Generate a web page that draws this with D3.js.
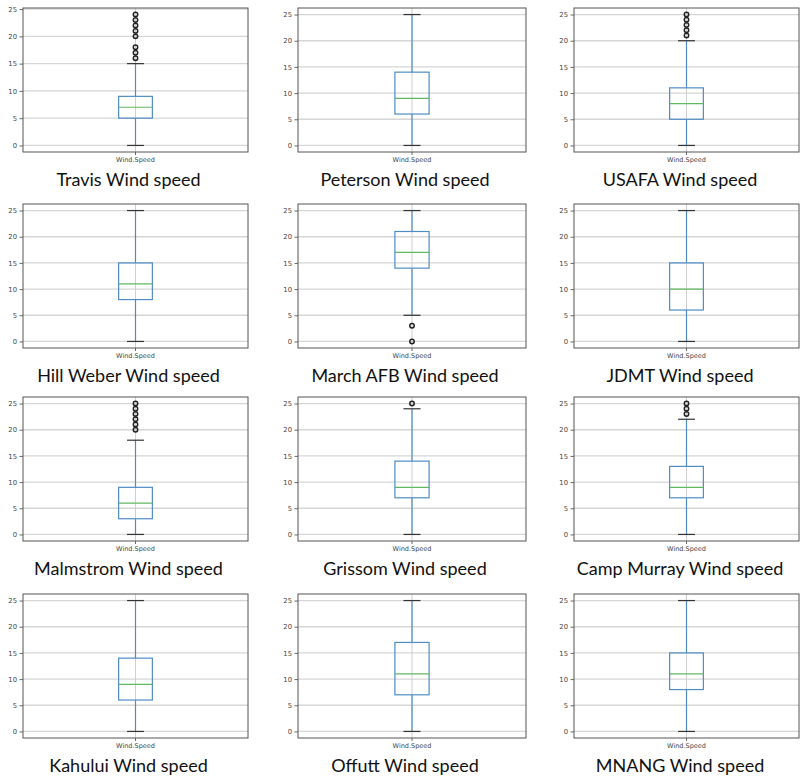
<!DOCTYPE html>
<html>
<head>
<meta charset="utf-8">
<script src="https://cdn.jsdelivr.net/npm/d3@7/dist/d3.min.js"></script>
<style>
  html, body { margin: 0; padding: 0; background: #fff; }
  svg { display: block; }
</style>
</head>
<body>
<svg id="chart" width="801" height="780"></svg>
<script>
// Wind speed distribution per station (box plot statistics)
const stations = ["Travis", "Peterson", "USAFA",
                  "Hill Weber", "March AFB", "JDMT",
                  "Malmstrom", "Grissom", "Camp Murray",
                  "Kahului", "Offutt", "MNANG"];
const whiskerLow  = [0, 0, 0,   0, 5, 0,   0, 0, 0,   0, 0, 0];
const q1          = [5, 6, 5,   8, 14, 6,  3, 7, 7,   6, 7, 8];
const median      = [7, 9, 8,   11, 17, 10, 6, 9, 9,  9, 11, 11];
const q3          = [9, 14, 11, 15, 21, 15, 9, 14, 13, 14, 17, 15];
const whiskerHigh = [15, 25, 20, 25, 25, 25, 18, 24, 22, 25, 25, 25];
const outliers = [
  [16, 17, 18, 20, 21, 22, 23, 24],
  [],
  [21, 22, 23, 24, 25],
  [],
  [0, 3],
  [],
  [20, 21, 22, 23, 24, 25],
  [25],
  [23, 24, 25],
  [],
  [],
  []
];
const yTicks = [0, 5, 10, 15, 20, 25];
const seriesName = "Wind.Speed";
const titleSuffix = " Wind speed";

// Grid of panels: 3 columns x 4 rows
const colLeft  = [23, 298, 574];
const colRight = [248, 526, 799];
const rowTop   = [8, 204, 397, 594];
const panelH   = 144;
const titleX   = [128.5, 405, 680];

const svg = d3.select("#chart");

stations.forEach((name, i) => {
  const c = i % 3, r = Math.floor(i / 3);
  const x0 = colLeft[c], x1 = colRight[c];
  const y0 = rowTop[r], y1 = y0 + panelH;

  // y limits follow the data extent with a 5% margin
  const vals = [whiskerLow[i], whiskerHigh[i], ...outliers[i]];
  const lo = d3.min(vals), hi = d3.max(vals);
  const pad = (hi - lo) * 0.05;

  const y = d3.scaleLinear().domain([lo - pad, hi + pad]).range([y1, y0]);
  const x = d3.scaleLinear().domain([0.5, 1.5]).range([x0, x1]);

  const g = svg.append("g");

  // horizontal grid
  g.append("g").selectAll("line").data(yTicks).join("line")
    .attr("x1", x0).attr("x2", x1)
    .attr("y1", d => y(d)).attr("y2", d => y(d))
    .attr("stroke", "#d6d6d6").attr("stroke-width", 1.3);

  // vertical grid at the box position
  g.append("line")
    .attr("x1", x(1)).attr("x2", x(1)).attr("y1", y0).attr("y2", y1)
    .attr("stroke", "#cfcfcf").attr("stroke-width", 1);

  // y axis
  const yAxis = d3.axisLeft(y).tickValues(yTicks).tickSize(3.5).tickPadding(2.5);
  const ax = g.append("g").attr("transform", `translate(${x0},0)`).call(yAxis);
  ax.select(".domain").remove();
  ax.selectAll(".tick line").attr("stroke", "#444").attr("stroke-width", 0.8);
  ax.selectAll(".tick text")
    .attr("fill", "#444")
    .style("font-family", "'DejaVu Sans', sans-serif")
    .style("font-size", "6.8px");

  // x tick + label
  g.append("line")
    .attr("x1", x(1)).attr("x2", x(1)).attr("y1", y1).attr("y2", y1 + 3)
    .attr("stroke", "#444").attr("stroke-width", 0.8);
  g.append("text")
    .attr("x", x(1)).attr("y", y1 + 9.5)
    .attr("text-anchor", "middle")
    .attr("fill", "#444")
    .style("font-family", "'DejaVu Sans', sans-serif")
    .style("font-size", "6.5px")
    .text(seriesName);

  // box
  const bw = (x(1.075) - x(0.925));
  const blue = "#4f8cc4";
  g.append("rect")
    .attr("x", x(0.925)).attr("y", y(q3[i]))
    .attr("width", bw).attr("height", y(q1[i]) - y(q3[i]))
    .attr("fill", "none").attr("stroke", blue).attr("stroke-width", 1.2);

  // whiskers
  g.append("line")
    .attr("x1", x(1)).attr("x2", x(1))
    .attr("y1", y(q1[i])).attr("y2", y(whiskerLow[i]))
    .attr("stroke", blue).attr("stroke-width", 1.2);
  g.append("line")
    .attr("x1", x(1)).attr("x2", x(1))
    .attr("y1", y(q3[i])).attr("y2", y(whiskerHigh[i]))
    .attr("stroke", blue).attr("stroke-width", 1.2);

  // caps
  [whiskerLow[i], whiskerHigh[i]].forEach(v => {
    g.append("line")
      .attr("x1", x(0.9625)).attr("x2", x(1.0375))
      .attr("y1", y(v)).attr("y2", y(v))
      .attr("stroke", "#333").attr("stroke-width", 1.2);
  });

  // median
  g.append("line")
    .attr("x1", x(0.925)).attr("x2", x(1.075))
    .attr("y1", y(median[i])).attr("y2", y(median[i]))
    .attr("stroke", "#62b862").attr("stroke-width", 1.2);

  // fliers
  g.append("g").selectAll("circle").data(outliers[i]).join("circle")
    .attr("cx", x(1)).attr("cy", d => y(d)).attr("r", 2.2)
    .attr("fill", "none").attr("stroke", "#222").attr("stroke-width", 1.5);

  // frame
  g.append("rect")
    .attr("x", x0).attr("y", y0).attr("width", x1 - x0).attr("height", y1 - y0)
    .attr("fill", "none").attr("stroke", "#555").attr("stroke-width", 1);

  // title
  svg.append("text")
    .attr("x", titleX[c]).attr("y", y1 + 34)
    .attr("text-anchor", "middle")
    .attr("fill", "#111")
    .style("font-family", "Lato, sans-serif")
    .style("font-size", "18px")
    .text(name + titleSuffix);
});
</script>
</body>
</html>
